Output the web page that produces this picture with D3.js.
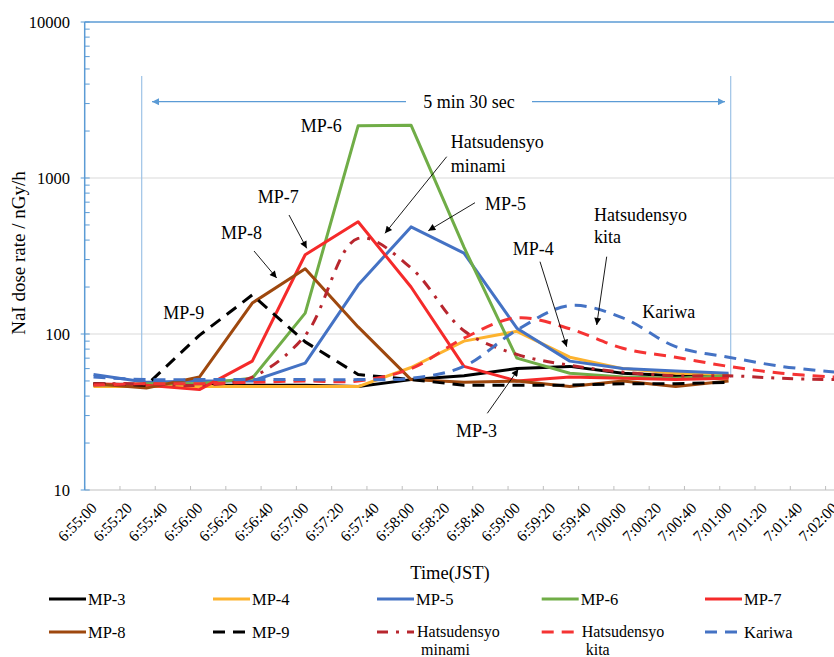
<!DOCTYPE html>
<html>
<head>
<meta charset="utf-8">
<script src="https://cdn.jsdelivr.net/npm/d3@7"></script>
<style>
  html, body { margin: 0; padding: 0; background: #fff; }
  svg { display: block; }
  text { font-family: "Liberation Serif", "Times New Roman", "DejaVu Serif", serif; }
</style>
</head>
<body>
<svg id="chart" width="834" height="657" font-family="Liberation Serif, Times New Roman, serif"></svg>
<script>
// ---------------- DATA ----------------
const times = ["6:55:05","6:55:35","6:56:05","6:56:35","6:57:05","6:57:35","6:58:05","6:58:35",
               "6:59:05","6:59:35","7:00:05","7:00:35","7:01:05","7:01:35","7:02:05"];
const tickLabels = ["6:55:00","6:55:20","6:55:40","6:56:00","6:56:20","6:56:40","6:57:00","6:57:20",
                    "6:57:40","6:58:00","6:58:20","6:58:40","6:59:00","6:59:20","6:59:40","7:00:00",
                    "7:00:20","7:00:40","7:01:00","7:01:20","7:01:40","7:02:00"];
const yTicks = [10, 100, 1000, 10000];

const mp3  = [47, 47, 47, 47, 47, 46, 51, 54, 60, 62, 56, 54, 53];
const mp4  = [46, 46, 46, 46, 46, 46, 61, 90, 104, 71, 60, 56, 55];
const mp5  = [55, 49, 50, 50, 65, 206, 486, 330, 109, 67, 60, 58, 56];
const mp6  = [47, 48, 48, 52, 136, 2160, 2180, 360, 70, 56, 53, 52, 54];
const mp7  = [48, 47, 44, 67, 322, 524, 200, 62, 50, 53, 52, 51, 52];
const mp8  = [48, 45, 53, 158, 262, 111, 51, 49, 50, 46, 50, 46, 50];
const mp9  = [48, 47, 98, 178, 89, 55, 51, 47, 47, 47, 48, 48, 49];
const minami = [48, 48, 47, 53, 98, 410, 265, 105, 74, 63, 57, 54, 54, 52, 51];
const kita   = [47, 48, 48, 49, 50, 50, 60, 94, 127, 108, 81, 71, 62, 56, 53];
const kariwa = [53, 51, 51, 51, 51, 51, 52, 62, 106, 152, 127, 83, 71, 62, 57];

const seriesNames = ["MP-3","MP-4","MP-5","MP-6","MP-7","MP-8","MP-9","Hatsudensyo minami","Hatsudensyo kita","Kariwa"];
const seriesValues = [mp3, mp4, mp5, mp6, mp7, mp8, mp9, minami, kita, kariwa];

// ---------------- STYLES ----------------
const styles = [
  {color:"#000000", dash:null, smooth:false},
  {color:"#FDB32F", dash:null, smooth:false},
  {color:"#4472C4", dash:null, smooth:false},
  {color:"#70AD47", dash:null, smooth:false},
  {color:"#F52A2A", dash:null, smooth:false},
  {color:"#9E480E", dash:null, smooth:false},
  {color:"#000000", dash:"12,8", smooth:false},
  {color:"#B8262E", dash:"11,8,3,8", smooth:true},
  {color:"#F53333", dash:"12,8", smooth:true},
  {color:"#4472C4", dash:"12,8", smooth:true}
];
const FONT = "Liberation Serif";

const t0 = 6*3600 + 55*60;
function secs(s) { const p = s.split(":").map(Number); return p[0]*3600 + p[1]*60 + p[2] - t0; }

const svg = d3.select("#chart");
const x = d3.scaleLinear().domain([0, 425]).range([84.7, 834.4]);
const y = d3.scaleLog().domain([10, 10000]).range([490, 22]);

// gridlines
svg.append("g").selectAll("line").data([100, 1000]).join("line")
  .attr("x1", x(0)).attr("x2", 834).attr("y1", d => y(d)).attr("y2", d => y(d))
  .attr("stroke", "#d9d9d9").attr("stroke-width", 1);
svg.append("line").attr("x1", x(0)).attr("x2", 834).attr("y1", y(10000)).attr("y2", y(10000))
  .attr("stroke", "#5B9BD5").attr("stroke-width", 1.3);

// x axis
const xAxisG = svg.append("g");
xAxisG.append("line").attr("x1", x(0)).attr("x2", 834).attr("y1", y(10)).attr("y2", y(10))
  .attr("stroke", "#bfbfbf").attr("stroke-width", 1);
xAxisG.selectAll("line.tk").data(tickLabels).join("line").attr("class","tk")
  .attr("x1", d => x(secs(d))).attr("x2", d => x(secs(d)))
  .attr("y1", y(10)).attr("y2", y(10) - 4)
  .attr("stroke", "#bfbfbf").attr("stroke-width", 1);
xAxisG.selectAll("text").data(tickLabels).join("text")
  .attr("transform", d => `translate(${x(secs(d)) + 13},${y(10) + 19}) rotate(-45)`)
  .attr("text-anchor", "end")
  .attr("font-family", FONT)
  .attr("font-size", 15.5)
  .attr("fill", "#000")
  .text(d => d);

// y axis
const yAxisG = svg.append("g");
yAxisG.append("line").attr("x1", x(0)).attr("x2", x(0)).attr("y1", y(10)).attr("y2", y(10000))
  .attr("stroke", "#5B9BD5").attr("stroke-width", 1.5);
const minor = [];
for (let dec = 10; dec < 10000; dec *= 10) for (let m = 2; m <= 9; m++) minor.push(dec*m);
yAxisG.selectAll("line.mn").data(minor).join("line").attr("class","mn")
  .attr("x1", x(0)).attr("x2", x(0) + 5).attr("y1", d => y(d)).attr("y2", d => y(d))
  .attr("stroke", "#5B9BD5").attr("stroke-width", 1);
yAxisG.selectAll("line.mj").data(yTicks).join("line").attr("class","mj")
  .attr("x1", x(0) - 4).attr("x2", x(0) + 5).attr("y1", d => y(d)).attr("y2", d => y(d))
  .attr("stroke", "#5B9BD5").attr("stroke-width", 1);
yAxisG.selectAll("text").data(yTicks).join("text")
  .attr("x", 70).attr("y", d => y(d)).attr("dy", "0.35em")
  .attr("font-family", FONT)
  .attr("text-anchor", "end").attr("font-size", 16.5).text(d => d);

// axis titles
svg.append("text").attr("transform", `translate(25,${253}) rotate(-90)`)
  .attr("font-family", FONT)
  .attr("text-anchor", "middle").attr("font-size", 19).text("NaI dose rate / nGy/h");
svg.append("text").attr("x", 450).attr("y", 573).attr("dy", "0.35em")
  .attr("font-family", FONT)
  .attr("text-anchor", "middle").attr("font-size", 18.5).text("Time(JST)");

// bracket (5 min 30 sec)
const annBlue = "#5B9BD5";
svg.append("line").attr("x1", 141.7).attr("x2", 141.7).attr("y1", 76).attr("y2", 380)
  .attr("stroke", "#9DC3E6").attr("stroke-width", 1.2);
svg.append("line").attr("x1", 730.7).attr("x2", 730.7).attr("y1", 76).attr("y2", 378)
  .attr("stroke", "#9DC3E6").attr("stroke-width", 1.2);

const defs = svg.append("defs");
defs.append("marker").attr("id", "blueArrow").attr("viewBox", "0 0 10 10")
  .attr("refX", 10).attr("refY", 5).attr("markerWidth", 10).attr("markerHeight", 7)
  .attr("markerUnits", "userSpaceOnUse").attr("orient", "auto")
  .append("path").attr("d", "M0,0 L10,5 L0,10 z").attr("fill", annBlue);
defs.append("marker").attr("id", "blackArrow").attr("viewBox", "0 0 10 10")
  .attr("refX", 10).attr("refY", 5).attr("markerWidth", 9).attr("markerHeight", 7)
  .attr("markerUnits", "userSpaceOnUse").attr("orient", "auto")
  .append("path").attr("d", "M0,0 L10,5 L0,10 z").attr("fill", "#000");

svg.append("line").attr("x1", 406).attr("x2", 152).attr("y1", 101.7).attr("y2", 101.7)
  .attr("stroke", annBlue).attr("stroke-width", 1.2).attr("marker-end", "url(#blueArrow)");
svg.append("line").attr("x1", 532).attr("x2", 725).attr("y1", 101.7).attr("y2", 101.7)
  .attr("stroke", annBlue).attr("stroke-width", 1.2).attr("marker-end", "url(#blueArrow)");
svg.append("text").attr("x", 469).attr("y", 101.7).attr("dy", "0.35em")
  .attr("font-family", FONT)
  .attr("text-anchor", "middle").attr("font-size", 18).text("5 min 30 sec");

// series lines
const linesG = svg.append("g");
seriesValues.forEach((vals, i) => {
  const st = styles[i];
  const pts = vals.map((v, k) => [x(secs(times[k])), y(v)]);
  const gen = d3.line().curve(st.smooth ? d3.curveCatmullRom.alpha(0.5) : d3.curveLinear);
  linesG.append("path").attr("d", gen(pts)).attr("fill", "none")
    .attr("stroke", st.color).attr("stroke-width", 3)
    .attr("stroke-linejoin", "round")
    .attr("stroke-dasharray", st.dash);
});

// annotations
const ann = [
  {t:"MP-6", x:300.7, y:125.7},
  {t:"MP-7", x:257.7, y:197},
  {t:"MP-8", x:221, y:233},
  {t:"MP-9", x:163.3, y:313},
  {t:"Hatsudensyo", x:450.7, y:141.7},
  {t:"minami", x:450.7, y:166},
  {t:"MP-5", x:485, y:203.3},
  {t:"Hatsudensyo", x:594, y:215},
  {t:"kita", x:594, y:236.7},
  {t:"MP-4", x:512.7, y:248.3},
  {t:"Kariwa", x:642.3, y:311.7},
  {t:"MP-3", x:456, y:430.7}
];
svg.append("g").selectAll("text").data(ann).join("text")
  .attr("x", d => d.x).attr("y", d => d.y).attr("dy", "0.35em")
  .attr("font-family", FONT)
  .attr("font-size", 18).text(d => d.t);

const arrows = [
  [289, 215, 306.7, 248.3],
  [254, 251, 276.7, 278],
  [446.7, 156.7, 385, 233.3],
  [475, 202.7, 428.3, 230.7],
  [606.7, 256.7, 596.7, 325],
  [540, 261.7, 566.7, 346.7],
  [487.3, 413.3, 518.3, 369.3]
];
svg.append("g").selectAll("line").data(arrows).join("line")
  .attr("x1", d => d[0]).attr("y1", d => d[1]).attr("x2", d => d[2]).attr("y2", d => d[3])
  .attr("stroke", "#000").attr("stroke-width", 0.9).attr("marker-end", "url(#blackArrow)");

// legend
const legendCols = [49, 213, 377, 541.7, 705];
const legendRows = [599, 632];
const legG = svg.append("g");
seriesNames.forEach((name, i) => {
  const st = styles[i];
  const cx = legendCols[i % 5], cy = legendRows[Math.floor(i / 5)];
  legG.append("line").attr("x1", cx).attr("x2", cx + 37).attr("y1", cy).attr("y2", cy)
    .attr("stroke", st.color).attr("stroke-width", 3).attr("stroke-dasharray", st.dash);
  const parts = name.split(" ");
  if (parts.length === 1) {
    legG.append("text").attr("x", cx + 39).attr("y", cy).attr("dy", "0.35em")
      .attr("font-family", FONT).attr("font-size", 16.5).text(name);
  } else {
    legG.append("text").attr("x", cx + 40).attr("y", cy - 1).attr("dy", "0.35em")
      .attr("font-family", FONT).attr("font-size", 16).text(parts[0]);
    legG.append("text").attr("x", cx + 44).attr("y", cy + 18).attr("dy", "0.3em")
      .attr("font-family", FONT).attr("font-size", 16).text(parts[1]);
  }
});
</script>
</body>
</html>
